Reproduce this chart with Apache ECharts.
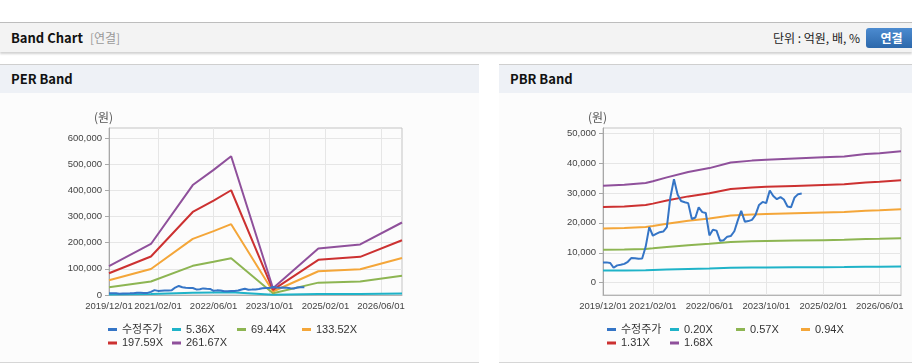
<!DOCTYPE html>
<html><head><meta charset="utf-8">
<script src="https://cdn.jsdelivr.net/npm/echarts@6/dist/echarts.min.js"></script>
<style>
html,body{margin:0;padding:0;width:912px;height:364px;overflow:hidden;background:#fff;font-family:"Noto Sans CJK KR","Noto Sans",sans-serif;}
.topline{position:absolute;left:0;top:22px;width:912px;height:1px;background:#bdbdbd;}
.hdr{position:absolute;left:0;top:23px;width:912px;height:29px;background:#f3f3f3;box-shadow:0 2px 2px rgba(0,0,0,0.18);}
.ttl{position:absolute;left:11px;top:0;line-height:29px;font-size:13px;font-weight:bold;color:#111;}
.sub{color:#999;font-weight:normal;font-size:12px;margin-left:7px;}
.unit{position:absolute;right:52px;top:0;line-height:29px;font-size:12px;color:#222;}
.btn{position:absolute;left:866px;top:5px;width:51px;height:20px;border-radius:3px;background:linear-gradient(#4c8bd0,#2c68ab);color:#fff;font-weight:bold;font-size:12px;line-height:20px;text-align:center;}
.panel{position:absolute;top:64px;height:297px;border-top:1px solid #cfcfcf;border-bottom:1px solid #d6d6d6;background:#fcfcfc;}
.ph{height:28px;background:#eef1f6;line-height:28px;padding-left:11px;font-size:13px;font-weight:bold;color:#111;}
#chart{position:absolute;left:0;top:0;width:912px;height:364px;}
</style></head>
<body>
<div class="topline"></div>
<div class="hdr"><div class="ttl">Band Chart<span class="sub">[연결]</span></div><div class="unit">단위 : 억원, 배, %</div><div class="btn">연결</div></div>
<div class="panel" style="left:0;width:479px;"><div class="ph">PER Band</div></div>
<div class="panel" style="left:499px;width:413px;"><div class="ph">PBR Band</div></div>
<div id="chart"></div>
<script>
// ---- data ----
const xTickLabels = ['2019/12/01','2021/02/01','2022/06/01','2023/10/01','2025/02/01','2026/06/01'];
const perYTicks = [0,100000,200000,300000,400000,500000,600000];
const pbrYTicks = [0,10000,20000,30000,40000,50000];

const priceMonths = ['2019-12-01',
 '2020-01-01','2020-02-01','2020-03-01','2020-04-01','2020-05-01','2020-06-01','2020-07-01','2020-08-01','2020-09-01','2020-10-01','2020-11-01','2020-12-01',
 '2021-01-01','2021-02-01','2021-03-01','2021-04-01','2021-05-01','2021-06-01','2021-07-01','2021-08-01','2021-09-01','2021-10-01','2021-11-01','2021-12-01',
 '2022-01-01','2022-02-01','2022-03-01','2022-04-01','2022-05-01','2022-06-01','2022-07-01','2022-08-01','2022-09-01','2022-10-01','2022-11-01','2022-12-01',
 '2023-01-01','2023-02-01','2023-03-01','2023-04-01','2023-05-01','2023-06-01','2023-07-01','2023-08-01','2023-09-01','2023-10-01','2023-11-01','2023-12-01',
 '2024-01-01','2024-02-01','2024-03-01','2024-04-01','2024-05-01','2024-06-01','2024-07-01','2024-08-01'];
const price = [6800,6800,6600,5000,5800,6000,6300,7000,8300,8200,8000,8100,
 12000,18600,15700,16300,16900,17100,18600,28500,34600,29500,27300,26900,
 26600,21300,21800,25200,23600,23300,15800,17700,17400,14000,14200,15400,
 15600,17200,21000,24000,20400,20600,21000,22600,26000,27000,26600,30800,
 29000,27900,28600,27800,25500,25200,28500,29600,29800];

const perDates = ['2019-12-01','2020-12-01','2021-12-01','2022-06-01','2022-11-01','2023-11-01','2024-12-01','2025-12-01','2026-12-01'];
const per536  = [2250,4000,8600,9800,10900,530,3650,3950,5670];
const per6944 = [29200,51800,111500,126900,140700,6900,47200,51200,73500];
const per13352 = [56100,99500,214300,243900,270500,13300,90800,98500,141400];
const per19759 = [83100,147200,317100,360900,400200,19600,134400,145700,209200];
const per26167 = [110000,195000,420000,478000,530000,26000,178000,193000,277000];

const pbrDates = ['2019-12-01','2020-06-01','2020-12-01','2021-02-01','2021-06-01','2021-12-01','2022-06-01','2022-12-01','2023-06-01','2023-10-01','2024-06-01','2025-02-01','2025-08-01','2026-02-01','2026-06-01','2026-12-01'];
const pbr020 = [4050,4080,4150,4230,4380,4600,4760,4990,5060,5100,5150,5190,5230,5330,5370,5440];
const pbr057 = [10990,11090,11300,11500,11940,12550,13000,13640,13840,13940,14080,14220,14320,14590,14690,14900];
const pbr094 = [18130,18300,18630,18970,19700,20700,21430,22490,22830,23000,23220,23440,23610,24060,24230,24560];
const pbr131 = [25270,25500,25970,26430,27450,28850,29870,31350,31820,32050,32360,32670,32910,33530,33760,34230];
const pbr168 = [32400,32700,33300,33900,35200,37000,38300,40200,40800,41100,41500,41900,42200,43000,43300,43900];

const perNames = ['수정주가','5.36X','69.44X','133.52X','197.59X','261.67X'];
const pbrNames = ['수정주가','0.20X','0.57X','0.94X','1.31X','1.68X'];

// ---- chart ----
const colors = ['#3575c6','#1fb3c8','#8db552','#f4a639','#cc3131','#8f509b'];
const toTs = s => { const [y, m, d] = s.split(/[\/-]/).map(Number); return +new Date(y, m - 1, d); };
const pairs = (d, v) => d.map((x, i) => [toTs(x), v[i]]);
const tickTs = xTickLabels.map(toTs);
const pad = n => String(n).padStart(2, '0');
const fmtDate = v => { const d = new Date(v); return d.getFullYear() + '/' + pad(d.getMonth() + 1) + '/' + pad(d.getDate()); };
const fmtNum = v => Number(v).toLocaleString('en-US');
const xMin = toTs('2019/12/01'), xMax = toTs('2026/12/01');
const labelFont = '"Liberation Sans", Arial, sans-serif';

function xAxis(gi) {
  return { type: 'value', gridIndex: gi, min: xMin, max: xMax,
    axisLine: { show: true, onZero: false, lineStyle: { color: '#b4b4b4' } },
    axisTick: { show: false, customValues: tickTs },
    axisLabel: { customValues: tickTs, formatter: fmtDate, fontSize: 9.5, color: '#444', margin: 6, fontFamily: labelFont },
    splitLine: { show: true, lineStyle: { color: '#e6e6e6' } } };
}
function yAxis(gi, min, max, ticks) {
  return { type: 'value', gridIndex: gi, min: min, max: max,
    axisLine: { show: true, onZero: false, lineStyle: { color: '#a8a8a8' } },
    axisTick: { show: true, length: 4, customValues: ticks, lineStyle: { color: '#a8a8a8' } },
    axisLabel: { customValues: ticks, formatter: fmtNum, fontSize: 9.5, color: '#444', margin: 7, fontFamily: labelFont },
    splitLine: { show: true, lineStyle: { color: '#e6e6e6' } } };
}
function line(name, data, gi, ci, z) {
  return { type: 'line', name: name, data: data, xAxisIndex: gi, yAxisIndex: gi, showSymbol: false, symbol: 'none',
    lineStyle: { width: 2, color: colors[ci] }, itemStyle: { color: colors[ci] }, z: z || 2, animation: false };
}
const perBands = [per536, per6944, per13352, per19759, per26167];
const pbrBands = [pbr020, pbr057, pbr094, pbr131, pbr168];
const series = [];
perBands.forEach((b, i) => series.push(line(perNames[i + 1], pairs(perDates, b), 0, i + 1)));
series.push(line(perNames[0], pairs(priceMonths, price), 0, 0, 3));
pbrBands.forEach((b, i) => series.push(line(pbrNames[i + 1], pairs(pbrDates, b), 1, i + 1)));
series.push(line(pbrNames[0], pairs(priceMonths, price), 1, 0, 3));

const legends = [];
function addLegends(names, xs, rows) {
  names.forEach((n, i) => {
    const r = i < 4 ? 0 : 1, c = i < 4 ? i : i - 4;
    legends.push({ data: [n], left: xs[c], top: rows[r], padding: 0, itemWidth: 9, itemHeight: 3, icon: 'rect',
      selectedMode: false, textStyle: { fontSize: 11, color: '#333', fontFamily: '"Liberation Sans", "Noto Sans CJK KR", sans-serif' } });
  });
}
addLegends(perNames, [108, 172, 237, 302], [324, 337.5]);
addLegends(pbrNames, [607, 670, 736, 801], [324, 337.5]);

const chart = echarts.init(document.getElementById('chart'), null, { renderer: 'canvas' });
chart.setOption({
  animation: false,
  grid: [
    { left: 109, top: 128, width: 293, height: 167, show: true, borderColor: '#c4c4c4', borderWidth: 1 },
    { left: 603, top: 128, width: 298, height: 167, show: true, borderColor: '#c4c4c4', borderWidth: 1 }
  ],
  xAxis: [xAxis(0), xAxis(1)],
  yAxis: [yAxis(0, 0, 638000, perYTicks), yAxis(1, -4100, 51700, pbrYTicks)],
  legend: legends,
  graphic: [
    { type: 'text', x: 103.5, y: 117, style: { text: '(원)', fill: '#555', font: '12px "Noto Sans CJK KR"', align: 'center', verticalAlign: 'middle' } },
    { type: 'text', x: 597.5, y: 117, style: { text: '(원)', fill: '#555', font: '12px "Noto Sans CJK KR"', align: 'center', verticalAlign: 'middle' } }
  ],
  series: series
});
</script>
</body></html>
